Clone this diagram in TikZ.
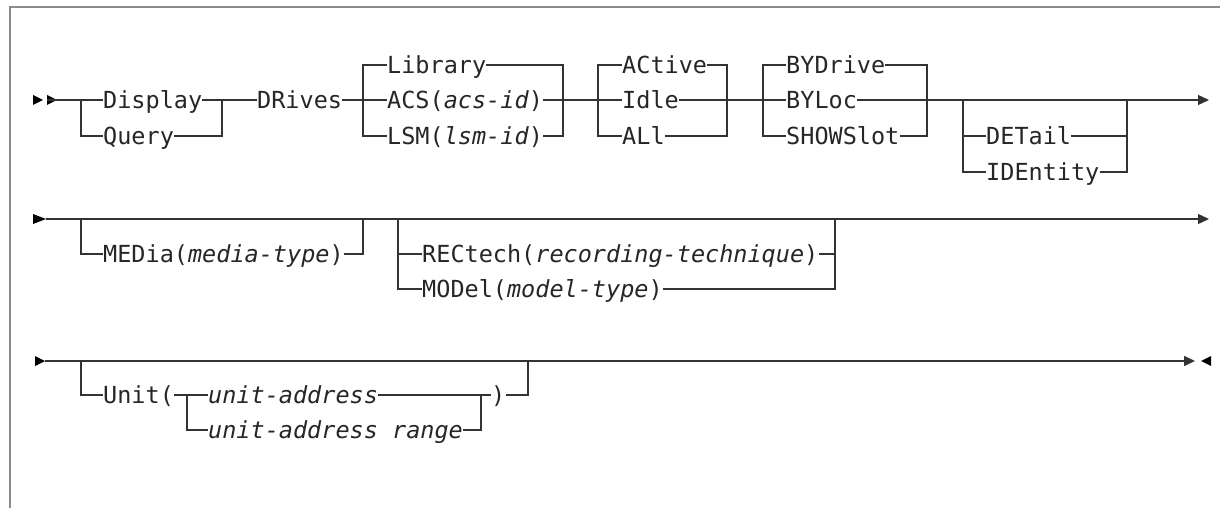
\documentclass[tikz,border=0pt]{standalone}
\usepackage{fontspec}
\usepackage{tikz}
\usetikzlibrary{arrows.meta}
\newfontfamily\railfont{DejaVu Sans Mono}

\begin{document}
\begin{tikzpicture}[x=1pt,y=-1pt,
  rail/.style={line width=1.3pt, black!80},
  kw/.style={font=\railfont\fontsize{23.5}{28}\selectfont, inner sep=0pt, anchor=west,
    text height=17.2pt, text depth=0pt, text=black!85},
  endtip/.style={-{Triangle[length=11pt,width=10pt]}},
  frame/.style={line width=2pt, black!45}]
\useasboundingbox (0,0) rectangle (1220,508);
\draw[frame] (10,508) -- (10,7) -- (1220,7);

% first line
\fill[black] (33,95) -- (43,100) -- (33,105) -- cycle;
\fill[black] (47,95) -- (57,100) -- (47,105) -- cycle;
\coordinate (r1s) at (47,100);
\coordinate (r1e) at (1209,100);
\node[kw] (dsp) at (103,100) {Display};
\node[kw] (qry) at (103,136) {Query};
\node[kw] (drv) at (257,100) {DRives};
\node[kw] (lib) at (387,65) {Library};
\node[kw] (acs) at (387,100) {ACS(\textit{acs-id})};
\node[kw] (lsm) at (387,136) {LSM(\textit{lsm-id})};
\node[kw] (act) at (622,65) {ACtive};
\node[kw] (idl) at (622,100) {Idle};
\node[kw] (all) at (622,136) {ALl};
\node[kw] (byd) at (786,65) {BYDrive};
\node[kw] (byl) at (786,100) {BYLoc};
\node[kw] (sho) at (786,136) {SHOWSlot};
\node[kw] (det) at (986,136) {DETail};
\node[kw] (ide) at (986,172) {IDEntity};
\coordinate (b1l) at (81,100);
\coordinate (b1r) at (222,100);
\coordinate (b2l) at (363,100);
\coordinate (b2r) at (563,100);
\coordinate (b3l) at (598,100);
\coordinate (b3r) at (727,100);
\coordinate (b4l) at (763,100);
\coordinate (b4r) at (927,100);
\coordinate (b5l) at (963,100);
\coordinate (b5r) at (1127,100);
\draw[rail] (r1s) -- (dsp.west);
\draw[rail] (b1l) |- (qry.west);
\draw[rail] (dsp.east) -- (drv.west);
\draw[rail] (qry.east) -| (b1r);
\draw[rail] (drv.east) -- (acs.west);
\draw[rail] (lib.west) -| (b2l) |- (lsm.west);
\draw[rail] (lib.east) -| (b2r) |- (lsm.east);
\draw[rail] (acs.east) -- (idl.west);
\draw[rail] (act.west) -| (b3l) |- (all.west);
\draw[rail] (act.east) -| (b3r) |- (all.east);
\draw[rail] (idl.east) -- (byl.west);
\draw[rail] (byd.west) -| (b4l) |- (sho.west);
\draw[rail] (byd.east) -| (b4r) |- (sho.east);
\draw[rail,endtip] (byl.east) -- (r1e);
\draw[rail] (b5l) |- (ide.west);
\draw[rail] (det.west) -- (det.west -| b5l);
\draw[rail] (ide.east) -| (b5r);
\draw[rail] (det.east) -- (det.east -| b5r);

% second line
\fill[black] (33,214) -- (46,219) -- (33,224) -- cycle;
\coordinate (r2s) at (46,219);
\coordinate (r2e) at (1209,219);
\node[kw] (med) at (103,254) {MEDia(\textit{media-type})};
\node[kw] (rec) at (422,254) {RECtech(\textit{recording-technique})};
\node[kw] (mdl) at (422,289) {MODel(\textit{model-type})};
\coordinate (b6l) at (81,219);
\coordinate (b6r) at (363,219);
\coordinate (b7l) at (398,219);
\coordinate (b7r) at (835,219);
\draw[rail,endtip] (r2s) -- (r2e);
\draw[rail] (b6l) |- (med.west);
\draw[rail] (med.east) -| (b6r);
\draw[rail] (b7l) |- (mdl.west);
\draw[rail] (rec.west) -- (rec.west -| b7l);
\draw[rail] (mdl.east) -| (b7r);
\draw[rail] (rec.east) -- (rec.east -| b7r);

% third line
\fill[black] (35,356) -- (45,361) -- (35,366) -- cycle;
\fill[black] (1211,356) -- (1201,361) -- (1211,366) -- cycle;
\coordinate (r3s) at (45,361);
\coordinate (r3e) at (1195,361);
\node[kw] (unt) at (103,395) {Unit(};
\node[kw] (ua) at (208,395) {\textit{unit-address}};
\node[kw] (uar) at (208,430) {\textit{unit-address range}};
\node[kw] (par) at (491,395) {)};
\coordinate (b8l) at (81,361);
\coordinate (b8r) at (528,361);
\coordinate (b9l) at (187,395);
\coordinate (b9r) at (481,395);
\draw[rail,endtip] (r3s) -- (r3e);
\draw[rail] (b8l) |- (unt.west);
\draw[rail] (unt.east) -- (ua.west);
\draw[rail] (b9l) |- (uar.west);
\draw[rail] (ua.east) -- (par.west);
\draw[rail] (uar.east) -| (b9r);
\draw[rail] (par.east) -| (b8r);
\end{tikzpicture}
\end{document}
